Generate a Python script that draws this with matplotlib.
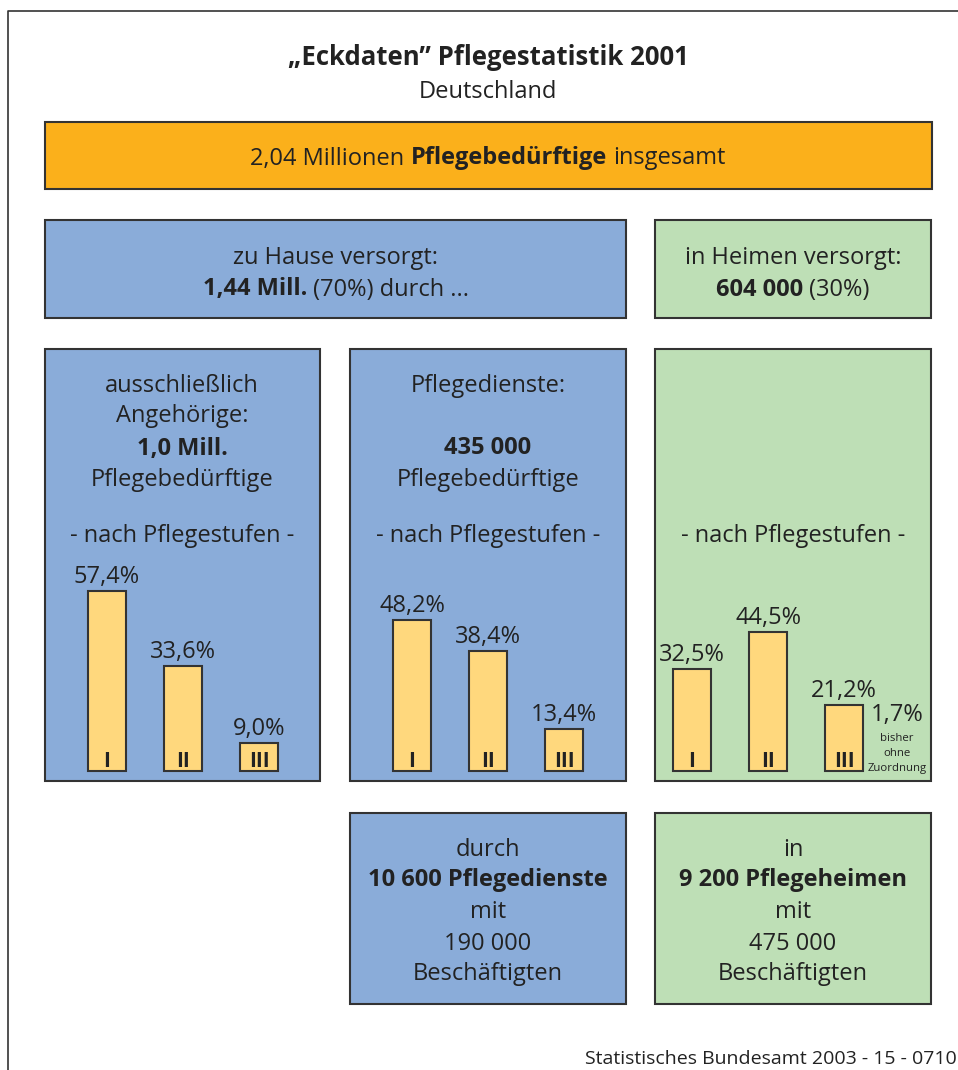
import matplotlib
matplotlib.use("Agg")
import matplotlib.pyplot as plt
from matplotlib.patches import Rectangle

plt.rcParams["font.family"] = ["Open Sans", "DejaVu Sans"]

# --- data -------------------------------------------------------------
stufen = ["I", "II", "III"]
angehoerige_pct = [57.4, 33.6, 9.0]
dienste_pct = [48.2, 38.4, 13.4]
heime_pct = [32.5, 44.5, 21.2]
heime_ohne_pct = 1.7

title = "„Eckdaten” Pflegestatistik 2001"
subtitle = "Deutschland"
total_line = [("2,04 Millionen", False), ("Pflegebedürftige", True), ("insgesamt", False)]
home_lines = [[("zu Hause versorgt:", False)],
              [("1,44 Mill.", True), ("(70%) durch ...", False)]]
heim_lines = [[("in Heimen versorgt:", False)],
              [("604 000", True), ("(30%)", False)]]
angeh_lines = [("ausschließlich", False), ("Angehörige:", False),
               ("1,0 Mill.", True), ("Pflegebedürftige", False)]
dienst_lines = [("Pflegedienste:", False), ("435 000", True), ("Pflegebedürftige", False)]
dienst_count_lines = [("durch", False), ("10 600 Pflegedienste", True), ("mit", False),
                      ("190 000", False), ("Beschäftigten", False)]
heim_count_lines = [("in", False), ("9 200 Pflegeheimen", True), ("mit", False),
                    ("475 000", False), ("Beschäftigten", False)]
stufen_caption = "- nach Pflegestufen -"
ohne_caption = ["bisher", "ohne", "Zuordnung"]
source = "Statistisches Bundesamt 2003 - 15 - 0710"

# --- style ------------------------------------------------------------
BLUE = "#8aacd9"
GREEN = "#bedfb6"
ORANGE = "#fbb01b"
BAR = "#ffd87d"
EDGE = "#333333"
TEXT = "#222222"
W, H = 958, 1070
PX_PER_PCT = 3.13
BODY = 17
DY = 2.5  # nudge for va="center" text

fig = plt.figure(figsize=(W / 100, H / 100), dpi=100)
ax = fig.add_axes([0, 0, 1, 1])
ax.set_xlim(0, W)
ax.set_ylim(H, 0)
ax.axis("off")
renderer = fig.canvas.get_renderer()


def box(x0, y0, x1, y1, color):
    ax.add_patch(Rectangle((x0, y0), x1 - x0, y1 - y0, facecolor=color,
                           edgecolor=EDGE, linewidth=1.5))


def text_width(s, size, bold):
    t = ax.text(0, 0, s, fontsize=size, fontweight="bold" if bold else "normal")
    w = t.get_window_extent(renderer).width
    t.remove()
    return w


def rich_line(xc, y, parts, size=BODY):
    space = text_width("a a", size, False) - text_width("aa", size, False)
    widths = [text_width(s, size, b) for s, b in parts]
    total = sum(widths) + space * (len(parts) - 1)
    x = xc - total / 2
    for (s, b), w in zip(parts, widths):
        ax.text(x, y + DY, s, fontsize=size, fontweight="bold" if b else "normal",
                ha="left", va="center", color=TEXT)
        x += w + space


def stacked(xc, ys, lines, size=BODY):
    for y, (s, b) in zip(ys, lines):
        ax.text(xc, y + DY, s, fontsize=size, fontweight="bold" if b else "normal",
                ha="center", va="center", color=TEXT)


def pct(v):
    return f"{v:.1f}".replace(".", ",") + "%"


def bar_panel(center0, values):
    left = center0 - 38
    bottom, top = 771, 571
    bax = fig.add_axes([left / W, 1 - bottom / H, 228 / W, (bottom - top) / H])
    bax.set_xlim(-0.5, 2.5)
    bax.set_ylim(0, (bottom - top) / PX_PER_PCT)
    bax.axis("off")
    xs = range(len(values))
    bax.bar(xs, values, width=0.5, color=BAR, edgecolor=EDGE, linewidth=1.5,
            clip_on=False)
    for i, v in zip(xs, values):
        bax.annotate(pct(v), (i, v), xytext=(0, 8), textcoords="offset pixels",
                     ha="center", va="baseline", fontsize=BODY, color=TEXT)
        bax.annotate(stufen[i], (i, 0), xytext=(0, 4), textcoords="offset pixels",
                     ha="center", va="baseline", fontsize=15, fontweight="bold",
                     color=TEXT)
    return bax


# outer frame
ax.plot([8, 8, W + 5], [H + 5, 11, 11], color=EDGE, linewidth=1.2, clip_on=False)

# title
ax.text(488, 55 + DY, title, fontsize=18.5, fontweight="bold", ha="center", va="center", color=TEXT)
ax.text(488, 89 + DY, subtitle, fontsize=BODY, ha="center", va="center", color=TEXT)

# total bar
box(45, 122, 932, 189, ORANGE)
rich_line(488, 156, total_line)

# second row
box(45, 220, 626, 318, BLUE)
box(655, 220, 931, 318, GREEN)
rich_line(336, 255, home_lines[0])
rich_line(336, 287, home_lines[1])
rich_line(793, 255, heim_lines[0])
rich_line(793, 287, heim_lines[1])

# third row panels
box(45, 349, 320, 781, BLUE)
box(350, 349, 626, 781, BLUE)
box(655, 349, 931, 781, GREEN)
stacked(182, [383, 414, 446, 477], angeh_lines)
stacked(488, [383, 446, 477], dienst_lines)
for xc in (182, 488, 793):
    ax.text(xc, 534 + DY, stufen_caption, fontsize=BODY, ha="center", va="center", color=TEXT)

bar_panel(107, angehoerige_pct)
bar_panel(412, dienste_pct)
bar_panel(692, heime_pct)

ax.text(897, 715, pct(heime_ohne_pct), fontsize=BODY, ha="center", va="center", color=TEXT)
stacked(897, [736, 751, 766], [(s, False) for s in ohne_caption], size=8.2)

# bottom row
box(350, 813, 626, 1004, BLUE)
box(655, 813, 931, 1004, GREEN)
stacked(488, [847, 878, 910, 941, 972], dienst_count_lines)
stacked(793, [847, 878, 910, 941, 972], heim_count_lines)

ax.text(957, 1059, source, fontsize=14, ha="right", va="center", color=TEXT)

fig.savefig("out.png", dpi=100)
plt.close(fig)
